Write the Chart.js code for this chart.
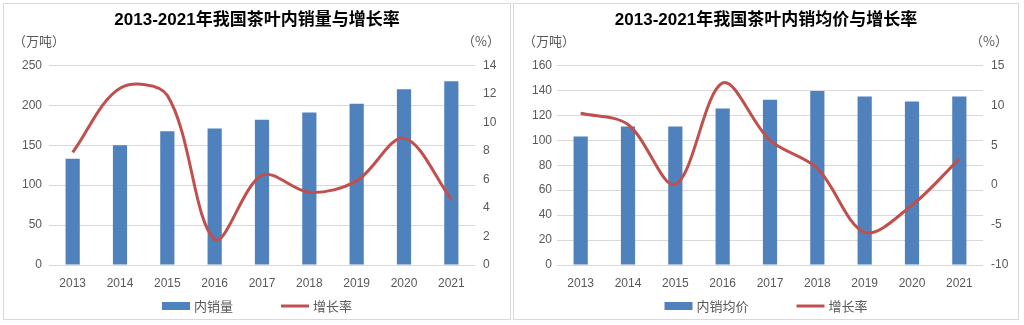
<!DOCTYPE html>
<html>
<head>
<meta charset="utf-8">
<script src="https://cdn.jsdelivr.net/npm/chart.js@4.4.1/dist/chart.umd.min.js"></script>
<style>
  html, body { margin: 0; padding: 0; background: #fff; }
  .panel { position: absolute; top: 3px; height: 315px; border: 1px solid #d9d9d9; background: #fff; }
  #panelVolume { left: 3px; width: 506px; }
  #panelPrice { left: 513px; width: 504px; }
  canvas { display: block; }
</style>
</head>
<body>
<div class="panel" id="panelVolume"><canvas id="volumeChart" width="506" height="315"></canvas></div>
<div class="panel" id="panelPrice"><canvas id="priceChart" width="504" height="315"></canvas></div>
<script>
// data
const years = ["2013", "2014", "2015", "2016", "2017", "2018", "2019", "2020", "2021"];
const salesVolume = [133, 150, 167.5, 171, 182, 191, 202, 220, 230];       // 万吨
const volumeGrowth = [7.9, 12.4, 11.9, 1.8, 6.3, 5.1, 5.9, 8.9, 4.6];     // %
const avgPrice = [103, 111, 111, 125.5, 132.5, 139.5, 135, 131, 135];
const priceGrowth = [9.0, 7.6, 0.1, 12.8, 5.6, 2.1, -5.9, -2.5, 3.3];     // %

const volumeAxis = [0, 250, 50];
const volumeRateAxis = [0, 14, 2];
const priceAxis = [0, 160, 20];
const priceRateAxis = [-10, 15, 5];

const barColor = "#4f81bd";
const lineColor = "#c0504d";
const textColor = "#595959";
const gridColor = "#d9d9d9";
const latinFont = '"Liberation Sans", "Noto Sans CJK SC", sans-serif';
const cjkFont = '"Noto Sans CJK SC", sans-serif';

// units above the axes + legend at the bottom
const extrasPlugin = {
  id: "extras",
  afterDraw(chart, args, opts) {
    const ctx = chart.ctx;
    ctx.save();
    ctx.font = "13px " + cjkFont;
    ctx.fillStyle = textColor;
    ctx.textBaseline = "middle";
    ctx.textAlign = "left";
    ctx.fillText(opts.leftUnit, 9, 37);
    ctx.textAlign = "right";
    ctx.fillText(opts.rightUnit, chart.width - 10, 37);

    const items = chart.data.datasets.map((ds) => ({
      text: ds.label,
      type: ds.type,
      color: ds.type === "line" ? ds.borderColor : ds.backgroundColor,
      width: 28 + 4 + ctx.measureText(ds.label).width,
    }));
    const gap = 48;
    const total = items.reduce((s, it) => s + it.width, 0) + gap * (items.length - 1);
    let x = chart.width / 2 - total / 2;
    const y = 302;
    ctx.textAlign = "left";
    items.forEach((it) => {
      if (it.type === "line") {
        ctx.strokeStyle = it.color;
        ctx.lineWidth = 3;
        ctx.beginPath();
        ctx.moveTo(x, y);
        ctx.lineTo(x + 28, y);
        ctx.stroke();
      } else {
        ctx.fillStyle = it.color;
        ctx.fillRect(x, y - 4, 28, 8);
      }
      ctx.fillStyle = textColor;
      ctx.fillText(it.text, x + 32, y);
      x += it.width + gap;
    });
    ctx.restore();
  },
};

function createComboChart(canvasId, cfg) {
  const tickFont = { family: latinFont, size: 12 };
  return new Chart(document.getElementById(canvasId), {
    type: "bar",
    data: {
      labels: years,
      datasets: [
        {
          type: "bar",
          label: cfg.barLabel,
          data: cfg.bars,
          yAxisID: "y",
          backgroundColor: barColor,
          barPercentage: 0.3,
          categoryPercentage: 1,
          order: 2,
        },
        {
          type: "line",
          label: "增长率",
          data: cfg.rates,
          yAxisID: "y1",
          borderColor: lineColor,
          backgroundColor: lineColor,
          borderWidth: 3,
          pointRadius: 0,
          tension: 0.33,
          order: 1,
        },
      ],
    },
    options: {
      responsive: false,
      animation: false,
      layout: { padding: { top: 0, left: 0, right: 0, bottom: 24 } },
      plugins: {
        legend: { display: false },
        tooltip: { enabled: false },
        title: {
          display: true,
          text: cfg.title,
          color: "#000",
          font: { family: latinFont, size: 17, weight: "bold" },
          padding: { top: 6, bottom: 35 },
        },
        extras: { leftUnit: "（万吨）", rightUnit: "（%）" },
      },
      scales: {
        x: {
          grid: { display: false, drawTicks: false },
          border: { display: false },
          ticks: { color: textColor, font: tickFont, padding: 11 },
          afterFit: (s) => { s.height = 30; },
        },
        y: {
          position: "left",
          min: cfg.leftAxis[0],
          max: cfg.leftAxis[1],
          ticks: { stepSize: cfg.leftAxis[2], color: textColor, font: tickFont, padding: cfg.leftPad },
          grid: { color: gridColor, drawTicks: false },
          border: { display: false },
          afterFit: (s) => { s.width = cfg.leftWidth; },
        },
        y1: {
          position: "right",
          min: cfg.rightAxis[0],
          max: cfg.rightAxis[1],
          ticks: { stepSize: cfg.rightAxis[2], color: textColor, font: tickFont, padding: 8 },
          grid: { display: false, drawTicks: false },
          border: { display: false },
          afterFit: (s) => { s.width = 35; },
        },
      },
    },
    plugins: [extrasPlugin],
  });
}

createComboChart("volumeChart", {
  title: "2013-2021年我国茶叶内销量与增长率",
  barLabel: "内销量",
  bars: salesVolume,
  rates: volumeGrowth,
  leftAxis: volumeAxis,
  rightAxis: volumeRateAxis,
  leftWidth: 45,
  leftPad: 7,
});

createComboChart("priceChart", {
  title: "2013-2021年我国茶叶内销均价与增长率",
  barLabel: "内销均价",
  bars: avgPrice,
  rates: priceGrowth,
  leftAxis: priceAxis,
  rightAxis: priceRateAxis,
  leftWidth: 43,
  leftPad: 5,
});
</script>
</body>
</html>
